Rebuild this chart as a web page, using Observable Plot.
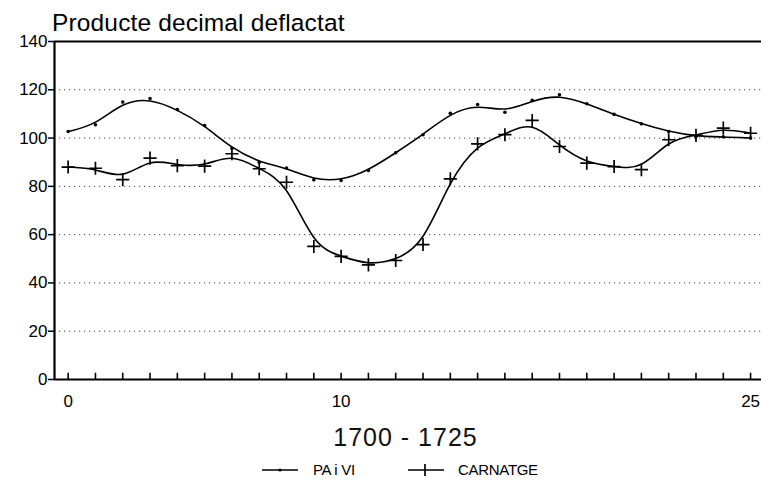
<!DOCTYPE html>
<html>
<head>
<meta charset="utf-8">
<script src="https://cdn.jsdelivr.net/npm/d3@7"></script>
<script src="https://cdn.jsdelivr.net/npm/@observablehq/plot@0.6"></script>
<style>
  body { margin: 0; background: #fff; font-family: "Liberation Sans", Arial, sans-serif; color: #000; }
  #wrap { position: relative; width: 761px; height: 484px; overflow: hidden; }
  #title { box-sizing: border-box; height: 30px; padding-top: 11px; padding-left: 52px; font-size: 24.5px; line-height: 24px; letter-spacing: 0.15px; white-space: nowrap; }
  #xlabel { box-sizing: border-box; height: 48px; padding-top: 18px; font-size: 25px; line-height: 25px; letter-spacing: 1px; text-align: center; padding-left: 50px; color: #111; }
  #legend { position: relative; height: 29px; font-size: 15px; }
  .lg { position: absolute; top: 0; height: 29px; display: flex; align-items: center; }
  .lg svg { display: block; }
</style>
</head>
<body>
<div id="wrap">
  <div id="title">Producte decimal deflactat</div>
  <div id="chart"></div>
  <div id="xlabel">1700 - 1725</div>
  <div id="legend"></div>
</div>
<script>
const years = d3.range(0, 26);
const paIVi = [102.7, 105.5, 114.9, 116.4, 111.8, 105.2, 95.7, 90.0, 87.6, 82.7, 82.4, 86.6, 93.9, 101.4, 110.3, 113.9, 110.7, 115.6, 117.9, 114.2, 109.8, 105.9, 102.7, 100.7, 100.5, 100.0];
const carnatge = [88.0, 87.5, 82.8, 91.7, 88.6, 88.4, 93.5, 87.3, 81.7, 55.1, 51.0, 47.5, 49.3, 55.9, 83.1, 97.6, 101.4, 107.3, 96.5, 89.6, 88.2, 86.9, 99.3, 101.1, 104.1, 102.0];
const seriesNames = ["PA i VI", "CARNATGE"];
const yTicks = [0, 20, 40, 60, 80, 100, 120, 140];
const xLabelTicks = [0, 10, 25];
const xDomain = [-0.5, 25.4];
const yDomain = [0, 140];

const paData = years.map((x, i) => ({x, y: paIVi[i]}));
const caData = years.map((x, i) => ({x, y: carnatge[i]}));

const chart = Plot.plot({
  width: 761,
  height: 377,
  marginTop: 11,
  marginBottom: 28,
  marginLeft: 54,
  marginRight: 0,
  style: {fontFamily: "Liberation Sans, Arial, sans-serif", background: "white", overflow: "visible"},
  x: {domain: xDomain},
  y: {domain: yDomain},
  marks: [
    Plot.gridY(yTicks.filter(d => d > 0 && d < 140), {stroke: "#000", strokeOpacity: 0.75, strokeDasharray: "1.2,3.8", strokeWidth: 1}),
    Plot.axisY({ticks: yTicks, tickSize: 6, tickPadding: 1, fontSize: 17, label: null, strokeWidth: 1.5}),
    Plot.axisX({ticks: xLabelTicks, tickSize: 0, tickPadding: 15, fontSize: 17, label: null}),
    Plot.ruleX(years, {x: d => d, y1: yDomain[0], y2: 2.6, stroke: "#000", strokeWidth: 1.6}),
    Plot.ruleY([yDomain[0], yDomain[1]], {stroke: "#000", strokeWidth: 2}),
    Plot.ruleX([xDomain[0]], {stroke: "#000", strokeWidth: 2.2}),
    Plot.line(paData, {x: "x", y: "y", curve: "basis", stroke: "#000", strokeWidth: 1.6}),
    Plot.dot(paData, {x: "x", y: "y", r: 1.8, fill: "#000"}),
    Plot.line(caData, {x: "x", y: "y", curve: "basis", stroke: "#000", strokeWidth: 1.6}),
    Plot.dot(caData, {x: "x", y: "y", symbol: "plus", r: 4.3, stroke: "#000", strokeWidth: 1.7})
  ]
});
document.getElementById("chart").appendChild(chart);

// legend
const legend = document.getElementById("legend");
const items = [
  {name: seriesNames[0], left: 262, textLeft: 313, marker: "dot"},
  {name: seriesNames[1], left: 408, textLeft: 458, marker: "plus"}
];
items.forEach(it => {
  const sw = document.createElement("div");
  sw.className = "lg";
  sw.style.left = it.left + "px";
  const markerSvg = it.marker === "dot"
    ? '<circle cx="18" cy="8" r="1.6" fill="#000"/>'
    : '<path d="M17,2V14" stroke="#000" stroke-width="1.7"/>';
  sw.innerHTML = '<svg width="36" height="16"><path d="M0,8H36" stroke="#000" stroke-width="1.6"/>' + markerSvg + '</svg>';
  legend.appendChild(sw);
  const tx = document.createElement("div");
  tx.className = "lg";
  tx.style.left = it.textLeft + "px";
  tx.style.letterSpacing = "-0.3px";
  tx.textContent = it.name;
  legend.appendChild(tx);
});
</script>
</body>
</html>
